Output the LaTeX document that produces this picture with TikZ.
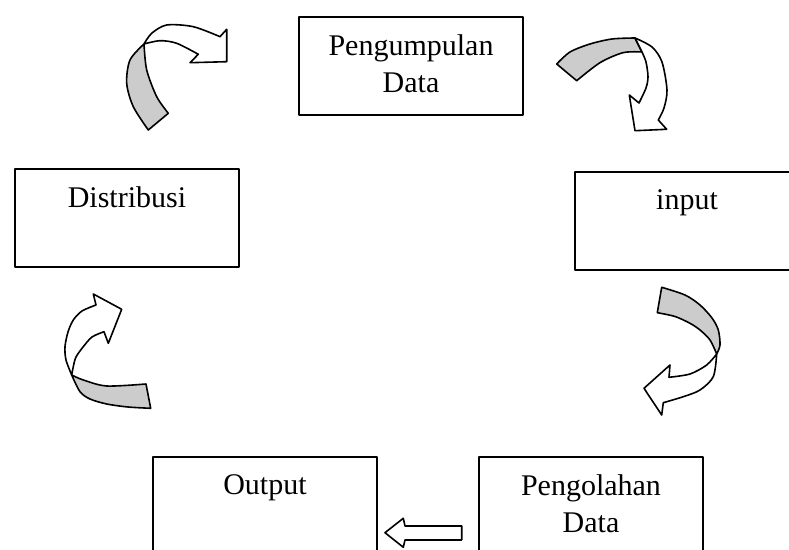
\documentclass[tikz,border=0pt]{standalone}
\usepackage{fontspec}
\setmainfont{Liberation Serif}
\usetikzlibrary{positioning}
\begin{document}
\begin{tikzpicture}[x=0.5pt,y=-0.5pt, line join=round, line cap=round, font=\fontsize{15}{18.5}\selectfont,
	kotak/.style={draw, line width=1pt, minimum width=112pt, minimum height=49pt, anchor=north west, inner sep=0pt},
	teks/.style={align=center, inner sep=0pt},
	lipat/.style={draw, line width=0.8pt, fill=gray!40},
	panah/.style={draw, line width=0.8pt, fill=white}]
	\useasboundingbox (0,0) rectangle (789,550);
	% kotak-kotak
	\node[kotak] (kumpul) at (298,16) {};
	\node[kotak] (distribusi) at (14,168) {};
	\node[kotak] (input) at (574,171) {};
	\node[kotak] (output) at (152,456) {};
	\node[kotak] (olah) at (478,456) {};
	\node[teks, below=9.25pt of kumpul.north] (tkumpul) {Pengumpulan\\Data};
	\node[teks, below=9.25pt of distribusi.north] (tdistribusi) {Distribusi};
	\node[teks, below=9.25pt of input.north] (tinput) {input};
	\node[teks, below=9.25pt of output.north] (toutput) {Output};
	\node[teks, below=9.25pt of olah.north] (tolah) {Pengolahan\\Data};
	% panah lengkung kiri atas
	\path[lipat] plot[smooth] coordinates {(144,44) (130,60) (126.7,83.3) (133.3,106.7) (148.3,130)} -- (168.3,113.3)
		-- plot[smooth] coordinates {(168.3,113.3) (156.7,96.7) (146.7,70) (144,44)} -- cycle;
	\path[panah] plot[smooth] coordinates {(144,44) (151.7,33.3) (166.7,25) (193.3,26.7) (220,36.7)} -- (226.7,29.3)
		-- (226.7,61.7) -- (190,62.7) -- (198.3,54.3) -- plot[smooth] coordinates {(198.3,54.3) (176.7,43.3) (160,40.7) (144,44)} -- cycle;
	% panah lengkung kanan atas
	\path[lipat] plot[smooth] coordinates {(556.7,64) (570,52) (590,44) (612,39) (635,38)} -- (642,52)
		-- plot[smooth] coordinates {(642,52) (623,52.7) (600,62.7) (576.7,80.7)} -- cycle;
	\path[panah] plot[smooth] coordinates {(635,38) (652,47) (662,62) (667,90) (664,108) (658.3,120)} -- (666.7,129.3)
		-- (635,130.7) -- (629.3,95) -- (639,103) -- plot[smooth] coordinates {(639,103) (646,88) (648,76.7) (646,62) (642,52)} -- cycle;
	% panah lengkung kanan bawah
	\path[lipat] plot[smooth] coordinates {(661.7,287.3) (685,295) (700,305) (712,318) (718.3,330) (720,345) (716.7,354)}
		-- plot[smooth] coordinates {(716.7,354) (710,340) (700,330) (690,323.3) (675,316.5) (657.3,312.7)} -- cycle;
	\path[panah] plot[smooth] coordinates {(716.7,354) (713.3,376.7) (700,390) (683.3,396.7) (663.3,402.7)} -- (661.7,415)
		-- (644,388.3) -- (670,365) -- (669,377.3) -- plot[smooth] coordinates {(669,377.3) (690,374) (706.7,365) (716.7,354)} -- cycle;
	% panah lengkung kiri bawah
	\path[lipat] plot[smooth] coordinates {(71.7,375) (80,391.7) (90,399) (106.7,404) (128,407) (150.7,408.3)} -- (146,384)
		-- plot[smooth] coordinates {(146,384) (106.7,386) (83.3,380) (71.7,375)} -- cycle;
	\path[panah] plot[smooth] coordinates {(71.7,375) (66,360) (65,346.7) (68,332) (73.3,320) (82,311) (96,305)} -- (93.3,294)
		-- (121.7,309.3) -- (108.3,343.3) -- (104,331.7) -- plot[smooth] coordinates {(104,331.7) (92,337) (83.3,346.7) (76,357) (73.3,366.7) (71.7,375)} -- cycle;
	% panah lurus
	\path[panah] (461.7,526) -- (405,526) -- (403.3,518.3) -- (385,532.7) -- (403.3,547.3) -- (405,540) -- (461.7,540) -- cycle;
\end{tikzpicture}
\end{document}
